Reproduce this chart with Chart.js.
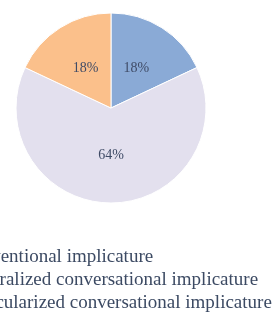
<!DOCTYPE html>
<html>
<head>
<meta charset="utf-8">
<script src="https://cdn.jsdelivr.net/npm/chart.js@4"></script>
<style>
    html, body { margin: 0; padding: 0; background: #fff; overflow: hidden; }
    #wrap { position: absolute; left: -70px; top: 0; width: 362px; height: 327px; }
</style>
</head>
<body>
<div id="wrap"><canvas id="pieChart"></canvas></div>
<script>
// Chart data
let labels = ["Conventional implicature", "Generalized conversational implicature", "Particularized conversational implicature"];
let shares = [18, 64, 18];
let sliceColors = ["#8aaad6", "#e3e0ee", "#fbc08b"];

// Percent labels drawn in the middle of each slice
const sliceLabels = {
    id: "sliceLabels",
    afterDatasetsDraw(chart) {
        let ctx = chart.ctx;
        let meta = chart.getDatasetMeta(0);
        ctx.save();
        ctx.fillStyle = "#3f4b66";
        ctx.font = "14px 'Liberation Serif', serif";
        ctx.textAlign = "center";
        ctx.textBaseline = "middle";
        meta.data.forEach((arc, i) => {
            let pos = arc.tooltipPosition();
            ctx.fillText(shares[i] + "%", pos.x, pos.y);
        });
        ctx.restore();
    }
};

let ctx = document.getElementById("pieChart").getContext("2d");
new Chart(ctx, {
    type: "pie",
    data: {
        labels: labels,
        datasets: [{
            data: shares,
            backgroundColor: sliceColors,
            borderColor: "#ffffff",
            borderWidth: 1,
            radius: 95
        }]
    },
    options: {
        responsive: true,
        maintainAspectRatio: false,
        animation: false,
        layout: { padding: { top: 0, bottom: 4.5 } },
        plugins: {
            tooltip: { enabled: false },
            legend: {
                position: "bottom",
                align: "start",
                title: { display: true, text: "", font: { size: 10 }, padding: { top: 15.5, bottom: 0 } },
                labels: {
                    boxWidth: 16,
                    padding: 4,
                    color: "#3c4a63",
                    font: { family: "'Liberation Serif', serif", size: 19 }
                }
            }
        }
    },
    plugins: [sliceLabels]
});
</script>
</body>
</html>
